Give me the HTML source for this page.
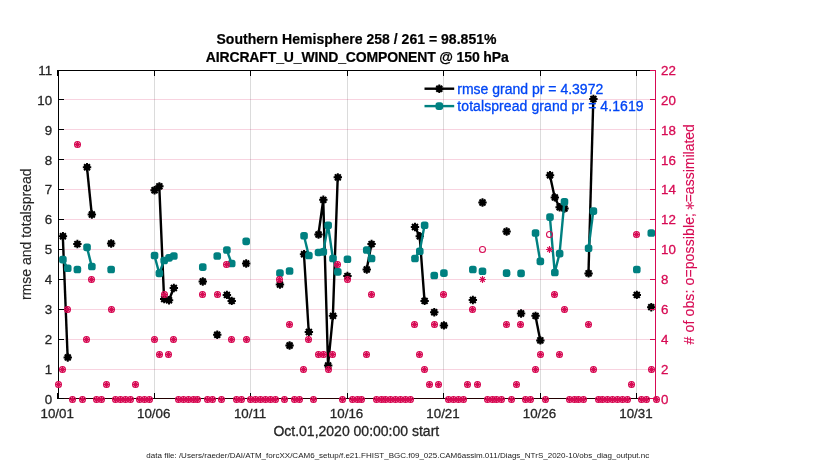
<!DOCTYPE html>
<html lang="en"><head><meta charset="utf-8"><title>Southern Hemisphere AIRCRAFT_U_WIND_COMPONENT @ 150 hPa</title>
<style>html,body{margin:0;padding:0;background:#fff}svg{display:block}text{font-family:"Liberation Sans", Arial, Helvetica, sans-serif}</style></head><body>
<svg width="830" height="470" viewBox="0 0 830 470">
<rect width="830" height="470" fill="#fff"/>
<g stroke="#000" stroke-opacity="0.14" stroke-width="1"><line x1="154.50" y1="70.50" x2="154.50" y2="398.50"/><line x1="250.50" y1="70.50" x2="250.50" y2="398.50"/><line x1="347.50" y1="70.50" x2="347.50" y2="398.50"/><line x1="443.50" y1="70.50" x2="443.50" y2="398.50"/><line x1="540.50" y1="70.50" x2="540.50" y2="398.50"/><line x1="636.50" y1="70.50" x2="636.50" y2="398.50"/></g>
<g stroke="#D70A53" stroke-opacity="0.18" stroke-width="1"><line x1="58.50" y1="369.50" x2="655.50" y2="369.50"/><line x1="58.50" y1="339.50" x2="655.50" y2="339.50"/><line x1="58.50" y1="309.50" x2="655.50" y2="309.50"/><line x1="58.50" y1="279.50" x2="655.50" y2="279.50"/><line x1="58.50" y1="249.50" x2="655.50" y2="249.50"/><line x1="58.50" y1="219.50" x2="655.50" y2="219.50"/><line x1="58.50" y1="189.50" x2="655.50" y2="189.50"/><line x1="58.50" y1="159.50" x2="655.50" y2="159.50"/><line x1="58.50" y1="129.50" x2="655.50" y2="129.50"/><line x1="58.50" y1="99.50" x2="655.50" y2="99.50"/></g>
<path d="M58.50 398.50 V70.50 H655.50" fill="none" stroke="#000" stroke-width="1" stroke-linecap="square"/>
<path d="M58.50 398.50 H655.50" fill="none" stroke="#200" stroke-width="1"/>
<path d="M57.50 399.00 v-6 M57.50 70.00 v6 M154.50 399.00 v-6 M154.50 70.00 v6 M250.50 399.00 v-6 M250.50 70.00 v6 M347.50 399.00 v-6 M347.50 70.00 v6 M443.50 399.00 v-6 M443.50 70.00 v6 M540.50 399.00 v-6 M540.50 70.00 v6 M636.50 399.00 v-6 M636.50 70.00 v6 M58.00 398.50 h6 M58.00 369.50 h6 M58.00 339.50 h6 M58.00 309.50 h6 M58.00 279.50 h6 M58.00 249.50 h6 M58.00 219.50 h6 M58.00 189.50 h6 M58.00 159.50 h6 M58.00 129.50 h6 M58.00 99.50 h6 M58.00 70.50 h6" fill="none" stroke="#000" stroke-width="1"/>
<g id="rmse"><polyline points="62.82,236.29 67.65,357.43" fill="none" stroke="#000" stroke-width="2.4" stroke-linejoin="round"/><polyline points="86.94,167.20 91.76,214.46" fill="none" stroke="#000" stroke-width="2.4" stroke-linejoin="round"/><polyline points="154.45,190.23 159.27,186.35 164.10,299.10 168.92,300.30 173.74,288.04" fill="none" stroke="#000" stroke-width="2.4" stroke-linejoin="round"/><polyline points="226.79,294.92 231.61,300.90" fill="none" stroke="#000" stroke-width="2.4" stroke-linejoin="round"/><polyline points="303.95,254.24 308.77,332.00" fill="none" stroke="#000" stroke-width="2.4" stroke-linejoin="round"/><polyline points="318.42,234.50 323.24,199.81 328.06,365.50 332.89,315.85 337.71,177.37" fill="none" stroke="#000" stroke-width="2.4" stroke-linejoin="round"/><polyline points="366.65,269.49 371.47,244.07" fill="none" stroke="#000" stroke-width="2.4" stroke-linejoin="round"/><polyline points="414.87,227.02 419.69,236.29 424.52,300.90" fill="none" stroke="#000" stroke-width="2.4" stroke-linejoin="round"/><polyline points="535.44,315.85 540.26,340.38" fill="none" stroke="#000" stroke-width="2.4" stroke-linejoin="round"/><polyline points="549.90,175.28 554.73,197.41 559.55,207.28 564.37,208.48" fill="none" stroke="#000" stroke-width="2.4" stroke-linejoin="round"/><polyline points="588.48,273.38 593.31,99.01" fill="none" stroke="#000" stroke-width="2.4" stroke-linejoin="round"/><circle cx="62.92" cy="236.29" r="3.1" fill="#000"/><path d="M58.72 236.29 L67.12 236.29 M59.95 233.32 L65.89 239.26 M62.92 232.09 L62.92 240.49 M65.89 233.32 L59.95 239.26" stroke="#000" stroke-width="2.0" fill="none"/><circle cx="67.75" cy="357.43" r="3.1" fill="#000"/><path d="M63.55 357.43 L71.95 357.43 M64.78 354.46 L70.72 360.40 M67.75 353.23 L67.75 361.63 M70.72 354.46 L64.78 360.40" stroke="#000" stroke-width="2.0" fill="none"/><circle cx="77.39" cy="244.07" r="3.1" fill="#000"/><path d="M73.19 244.07 L81.59 244.07 M74.42 241.10 L80.36 247.04 M77.39 239.87 L77.39 248.27 M80.36 241.10 L74.42 247.04" stroke="#000" stroke-width="2.0" fill="none"/><circle cx="87.04" cy="167.20" r="3.1" fill="#000"/><path d="M82.84 167.20 L91.24 167.20 M84.07 164.23 L90.01 170.17 M87.04 163.00 L87.04 171.40 M90.01 164.23 L84.07 170.17" stroke="#000" stroke-width="2.0" fill="none"/><circle cx="91.86" cy="214.46" r="3.1" fill="#000"/><path d="M87.66 214.46 L96.06 214.46 M88.89 211.49 L94.83 217.43 M91.86 210.26 L91.86 218.66 M94.83 211.49 L88.89 217.43" stroke="#000" stroke-width="2.0" fill="none"/><circle cx="111.15" cy="243.47" r="3.1" fill="#000"/><path d="M106.95 243.47 L115.35 243.47 M108.18 240.50 L114.12 246.44 M111.15 239.27 L111.15 247.67 M114.12 240.50 L108.18 246.44" stroke="#000" stroke-width="2.0" fill="none"/><circle cx="154.55" cy="190.23" r="3.1" fill="#000"/><path d="M150.35 190.23 L158.75 190.23 M151.58 187.26 L157.52 193.20 M154.55 186.03 L154.55 194.43 M157.52 187.26 L151.58 193.20" stroke="#000" stroke-width="2.0" fill="none"/><circle cx="159.37" cy="186.35" r="3.1" fill="#000"/><path d="M155.17 186.35 L163.57 186.35 M156.40 183.38 L162.34 189.32 M159.37 182.15 L159.37 190.55 M162.34 183.38 L156.40 189.32" stroke="#000" stroke-width="2.0" fill="none"/><circle cx="164.20" cy="299.10" r="3.1" fill="#000"/><path d="M160.00 299.10 L168.40 299.10 M161.23 296.13 L167.17 302.07 M164.20 294.90 L164.20 303.30 M167.17 296.13 L161.23 302.07" stroke="#000" stroke-width="2.0" fill="none"/><circle cx="169.02" cy="300.30" r="3.1" fill="#000"/><path d="M164.82 300.30 L173.22 300.30 M166.05 297.33 L171.99 303.27 M169.02 296.10 L169.02 304.50 M171.99 297.33 L166.05 303.27" stroke="#000" stroke-width="2.0" fill="none"/><circle cx="173.84" cy="288.04" r="3.1" fill="#000"/><path d="M169.64 288.04 L178.04 288.04 M170.87 285.07 L176.81 291.01 M173.84 283.84 L173.84 292.24 M176.81 285.07 L170.87 291.01" stroke="#000" stroke-width="2.0" fill="none"/><circle cx="202.78" cy="281.46" r="3.1" fill="#000"/><path d="M198.58 281.46 L206.98 281.46 M199.81 278.49 L205.75 284.43 M202.78 277.26 L202.78 285.66 M205.75 278.49 L199.81 284.43" stroke="#000" stroke-width="2.0" fill="none"/><circle cx="217.25" cy="334.70" r="3.1" fill="#000"/><path d="M213.05 334.70 L221.45 334.70 M214.28 331.73 L220.22 337.67 M217.25 330.50 L217.25 338.90 M220.22 331.73 L214.28 337.67" stroke="#000" stroke-width="2.0" fill="none"/><circle cx="226.89" cy="294.92" r="3.1" fill="#000"/><path d="M222.69 294.92 L231.09 294.92 M223.92 291.95 L229.86 297.89 M226.89 290.72 L226.89 299.12 M229.86 291.95 L223.92 297.89" stroke="#000" stroke-width="2.0" fill="none"/><circle cx="231.71" cy="300.90" r="3.1" fill="#000"/><path d="M227.51 300.90 L235.91 300.90 M228.74 297.93 L234.68 303.87 M231.71 296.70 L231.71 305.10 M234.68 297.93 L228.74 303.87" stroke="#000" stroke-width="2.0" fill="none"/><circle cx="246.18" cy="263.51" r="3.1" fill="#000"/><path d="M241.98 263.51 L250.38 263.51 M243.21 260.54 L249.15 266.48 M246.18 259.31 L246.18 267.71 M249.15 260.54 L243.21 266.48" stroke="#000" stroke-width="2.0" fill="none"/><circle cx="279.94" cy="284.45" r="3.1" fill="#000"/><path d="M275.74 284.45 L284.14 284.45 M276.97 281.48 L282.91 287.42 M279.94 280.25 L279.94 288.65 M282.91 281.48 L276.97 287.42" stroke="#000" stroke-width="2.0" fill="none"/><circle cx="289.58" cy="345.46" r="3.1" fill="#000"/><path d="M285.38 345.46 L293.78 345.46 M286.61 342.49 L292.55 348.43 M289.58 341.26 L289.58 349.66 M292.55 342.49 L286.61 348.43" stroke="#000" stroke-width="2.0" fill="none"/><circle cx="304.05" cy="254.24" r="3.1" fill="#000"/><path d="M299.85 254.24 L308.25 254.24 M301.08 251.27 L307.02 257.21 M304.05 250.04 L304.05 258.44 M307.02 251.27 L301.08 257.21" stroke="#000" stroke-width="2.0" fill="none"/><circle cx="308.87" cy="332.00" r="3.1" fill="#000"/><path d="M304.67 332.00 L313.07 332.00 M305.90 329.03 L311.84 334.97 M308.87 327.80 L308.87 336.20 M311.84 329.03 L305.90 334.97" stroke="#000" stroke-width="2.0" fill="none"/><circle cx="318.52" cy="234.50" r="3.1" fill="#000"/><path d="M314.32 234.50 L322.72 234.50 M315.55 231.53 L321.49 237.47 M318.52 230.30 L318.52 238.70 M321.49 231.53 L315.55 237.47" stroke="#000" stroke-width="2.0" fill="none"/><circle cx="323.34" cy="199.81" r="3.1" fill="#000"/><path d="M319.14 199.81 L327.54 199.81 M320.37 196.84 L326.31 202.78 M323.34 195.61 L323.34 204.01 M326.31 196.84 L320.37 202.78" stroke="#000" stroke-width="2.0" fill="none"/><circle cx="328.16" cy="365.50" r="3.1" fill="#000"/><path d="M323.96 365.50 L332.36 365.50 M325.19 362.53 L331.13 368.47 M328.16 361.30 L328.16 369.70 M331.13 362.53 L325.19 368.47" stroke="#000" stroke-width="2.0" fill="none"/><circle cx="332.99" cy="315.85" r="3.1" fill="#000"/><path d="M328.79 315.85 L337.19 315.85 M330.02 312.88 L335.96 318.82 M332.99 311.65 L332.99 320.05 M335.96 312.88 L330.02 318.82" stroke="#000" stroke-width="2.0" fill="none"/><circle cx="337.81" cy="177.37" r="3.1" fill="#000"/><path d="M333.61 177.37 L342.01 177.37 M334.84 174.40 L340.78 180.34 M337.81 173.17 L337.81 181.57 M340.78 174.40 L334.84 180.34" stroke="#000" stroke-width="2.0" fill="none"/><circle cx="347.45" cy="276.07" r="3.1" fill="#000"/><path d="M343.25 276.07 L351.65 276.07 M344.48 273.10 L350.42 279.04 M347.45 271.87 L347.45 280.27 M350.42 273.10 L344.48 279.04" stroke="#000" stroke-width="2.0" fill="none"/><circle cx="366.75" cy="269.49" r="3.1" fill="#000"/><path d="M362.55 269.49 L370.95 269.49 M363.78 266.52 L369.72 272.46 M366.75 265.29 L366.75 273.69 M369.72 266.52 L363.78 272.46" stroke="#000" stroke-width="2.0" fill="none"/><circle cx="371.57" cy="244.07" r="3.1" fill="#000"/><path d="M367.37 244.07 L375.77 244.07 M368.60 241.10 L374.54 247.04 M371.57 239.87 L371.57 248.27 M374.54 241.10 L368.60 247.04" stroke="#000" stroke-width="2.0" fill="none"/><circle cx="414.97" cy="227.02" r="3.1" fill="#000"/><path d="M410.77 227.02 L419.17 227.02 M412.00 224.05 L417.94 229.99 M414.97 222.82 L414.97 231.22 M417.94 224.05 L412.00 229.99" stroke="#000" stroke-width="2.0" fill="none"/><circle cx="419.79" cy="236.29" r="3.1" fill="#000"/><path d="M415.59 236.29 L423.99 236.29 M416.82 233.32 L422.76 239.26 M419.79 232.09 L419.79 240.49 M422.76 233.32 L416.82 239.26" stroke="#000" stroke-width="2.0" fill="none"/><circle cx="424.62" cy="300.90" r="3.1" fill="#000"/><path d="M420.42 300.90 L428.82 300.90 M421.65 297.93 L427.59 303.87 M424.62 296.70 L424.62 305.10 M427.59 297.93 L421.65 303.87" stroke="#000" stroke-width="2.0" fill="none"/><circle cx="434.26" cy="312.26" r="3.1" fill="#000"/><path d="M430.06 312.26 L438.46 312.26 M431.29 309.29 L437.23 315.23 M434.26 308.06 L434.26 316.46 M437.23 309.29 L431.29 315.23" stroke="#000" stroke-width="2.0" fill="none"/><circle cx="443.91" cy="325.42" r="3.1" fill="#000"/><path d="M439.71 325.42 L448.11 325.42 M440.94 322.45 L446.88 328.39 M443.91 321.22 L443.91 329.62 M446.88 322.45 L440.94 328.39" stroke="#000" stroke-width="2.0" fill="none"/><circle cx="472.84" cy="300.00" r="3.1" fill="#000"/><path d="M468.64 300.00 L477.04 300.00 M469.87 297.03 L475.81 302.97 M472.84 295.80 L472.84 304.20 M475.81 297.03 L469.87 302.97" stroke="#000" stroke-width="2.0" fill="none"/><circle cx="482.49" cy="202.50" r="3.1" fill="#000"/><path d="M478.29 202.50 L486.69 202.50 M479.52 199.53 L485.46 205.47 M482.49 198.30 L482.49 206.70 M485.46 199.53 L479.52 205.47" stroke="#000" stroke-width="2.0" fill="none"/><circle cx="506.60" cy="231.51" r="3.1" fill="#000"/><path d="M502.40 231.51 L510.80 231.51 M503.63 228.54 L509.57 234.48 M506.60 227.31 L506.60 235.71 M509.57 228.54 L503.63 234.48" stroke="#000" stroke-width="2.0" fill="none"/><circle cx="521.07" cy="313.46" r="3.1" fill="#000"/><path d="M516.87 313.46 L525.27 313.46 M518.10 310.49 L524.04 316.43 M521.07 309.26 L521.07 317.66 M524.04 310.49 L518.10 316.43" stroke="#000" stroke-width="2.0" fill="none"/><circle cx="535.54" cy="315.85" r="3.1" fill="#000"/><path d="M531.34 315.85 L539.74 315.85 M532.57 312.88 L538.51 318.82 M535.54 311.65 L535.54 320.05 M538.51 312.88 L532.57 318.82" stroke="#000" stroke-width="2.0" fill="none"/><circle cx="540.36" cy="340.38" r="3.1" fill="#000"/><path d="M536.16 340.38 L544.56 340.38 M537.39 337.41 L543.33 343.35 M540.36 336.18 L540.36 344.58 M543.33 337.41 L537.39 343.35" stroke="#000" stroke-width="2.0" fill="none"/><circle cx="550.00" cy="175.28" r="3.1" fill="#000"/><path d="M545.80 175.28 L554.20 175.28 M547.03 172.31 L552.97 178.25 M550.00 171.08 L550.00 179.48 M552.97 172.31 L547.03 178.25" stroke="#000" stroke-width="2.0" fill="none"/><circle cx="554.83" cy="197.41" r="3.1" fill="#000"/><path d="M550.63 197.41 L559.03 197.41 M551.86 194.44 L557.80 200.38 M554.83 193.21 L554.83 201.61 M557.80 194.44 L551.86 200.38" stroke="#000" stroke-width="2.0" fill="none"/><circle cx="559.65" cy="207.28" r="3.1" fill="#000"/><path d="M555.45 207.28 L563.85 207.28 M556.68 204.31 L562.62 210.25 M559.65 203.08 L559.65 211.48 M562.62 204.31 L556.68 210.25" stroke="#000" stroke-width="2.0" fill="none"/><circle cx="564.47" cy="208.48" r="3.1" fill="#000"/><path d="M560.27 208.48 L568.67 208.48 M561.50 205.51 L567.44 211.45 M564.47 204.28 L564.47 212.68 M567.44 205.51 L561.50 211.45" stroke="#000" stroke-width="2.0" fill="none"/><circle cx="588.58" cy="273.38" r="3.1" fill="#000"/><path d="M584.38 273.38 L592.78 273.38 M585.61 270.41 L591.55 276.35 M588.58 269.18 L588.58 277.58 M591.55 270.41 L585.61 276.35" stroke="#000" stroke-width="2.0" fill="none"/><circle cx="593.41" cy="99.01" r="3.1" fill="#000"/><path d="M589.21 99.01 L597.61 99.01 M590.44 96.04 L596.38 101.98 M593.41 94.81 L593.41 103.21 M596.38 96.04 L590.44 101.98" stroke="#000" stroke-width="2.0" fill="none"/><circle cx="636.81" cy="294.92" r="3.1" fill="#000"/><path d="M632.61 294.92 L641.01 294.92 M633.84 291.95 L639.78 297.89 M636.81 290.72 L636.81 299.12 M639.78 291.95 L633.84 297.89" stroke="#000" stroke-width="2.0" fill="none"/><circle cx="651.28" cy="307.18" r="3.1" fill="#000"/><path d="M647.08 307.18 L655.48 307.18 M648.31 304.21 L654.25 310.15 M651.28 302.98 L651.28 311.38 M654.25 304.21 L648.31 310.15" stroke="#000" stroke-width="2.0" fill="none"/></g>
<g id="spread"><polyline points="62.82,259.62 67.65,268.30" fill="none" stroke="#008080" stroke-width="2.4" stroke-linejoin="round"/><polyline points="86.94,247.36 91.76,266.50" fill="none" stroke="#008080" stroke-width="2.4" stroke-linejoin="round"/><polyline points="154.45,255.44 159.27,273.38 164.10,260.52 168.92,257.83 173.74,256.03" fill="none" stroke="#008080" stroke-width="2.4" stroke-linejoin="round"/><polyline points="226.79,250.05 231.61,263.51" fill="none" stroke="#008080" stroke-width="2.4" stroke-linejoin="round"/><polyline points="303.95,235.70 308.77,255.44" fill="none" stroke="#008080" stroke-width="2.4" stroke-linejoin="round"/><polyline points="318.42,252.45 323.24,251.85 328.06,225.23 332.89,258.43 337.71,271.89" fill="none" stroke="#008080" stroke-width="2.4" stroke-linejoin="round"/><polyline points="366.65,250.05 371.47,258.43" fill="none" stroke="#008080" stroke-width="2.4" stroke-linejoin="round"/><polyline points="414.87,258.43 419.69,251.25 424.52,225.23" fill="none" stroke="#008080" stroke-width="2.4" stroke-linejoin="round"/><polyline points="535.44,233.00 540.26,261.42" fill="none" stroke="#008080" stroke-width="2.4" stroke-linejoin="round"/><polyline points="549.90,217.15 554.73,272.48 559.55,253.64 564.37,201.90" fill="none" stroke="#008080" stroke-width="2.4" stroke-linejoin="round"/><polyline points="588.48,248.26 593.31,211.17" fill="none" stroke="#008080" stroke-width="2.4" stroke-linejoin="round"/><rect x="59.12" y="255.82" width="7.6" height="7.6" rx="2.6" fill="#008080"/><rect x="63.95" y="264.50" width="7.6" height="7.6" rx="2.6" fill="#008080"/><rect x="73.59" y="265.69" width="7.6" height="7.6" rx="2.6" fill="#008080"/><rect x="83.24" y="243.56" width="7.6" height="7.6" rx="2.6" fill="#008080"/><rect x="88.06" y="262.70" width="7.6" height="7.6" rx="2.6" fill="#008080"/><rect x="107.35" y="265.69" width="7.6" height="7.6" rx="2.6" fill="#008080"/><rect x="150.75" y="251.64" width="7.6" height="7.6" rx="2.6" fill="#008080"/><rect x="155.57" y="269.58" width="7.6" height="7.6" rx="2.6" fill="#008080"/><rect x="160.40" y="256.72" width="7.6" height="7.6" rx="2.6" fill="#008080"/><rect x="165.22" y="254.03" width="7.6" height="7.6" rx="2.6" fill="#008080"/><rect x="170.04" y="252.23" width="7.6" height="7.6" rx="2.6" fill="#008080"/><rect x="198.98" y="263.30" width="7.6" height="7.6" rx="2.6" fill="#008080"/><rect x="213.45" y="252.23" width="7.6" height="7.6" rx="2.6" fill="#008080"/><rect x="223.09" y="246.25" width="7.6" height="7.6" rx="2.6" fill="#008080"/><rect x="227.91" y="259.71" width="7.6" height="7.6" rx="2.6" fill="#008080"/><rect x="242.38" y="237.58" width="7.6" height="7.6" rx="2.6" fill="#008080"/><rect x="276.14" y="269.28" width="7.6" height="7.6" rx="2.6" fill="#008080"/><rect x="285.78" y="267.19" width="7.6" height="7.6" rx="2.6" fill="#008080"/><rect x="300.25" y="231.90" width="7.6" height="7.6" rx="2.6" fill="#008080"/><rect x="305.07" y="251.64" width="7.6" height="7.6" rx="2.6" fill="#008080"/><rect x="314.72" y="248.65" width="7.6" height="7.6" rx="2.6" fill="#008080"/><rect x="319.54" y="248.05" width="7.6" height="7.6" rx="2.6" fill="#008080"/><rect x="324.36" y="221.43" width="7.6" height="7.6" rx="2.6" fill="#008080"/><rect x="329.19" y="254.63" width="7.6" height="7.6" rx="2.6" fill="#008080"/><rect x="334.01" y="268.09" width="7.6" height="7.6" rx="2.6" fill="#008080"/><rect x="343.65" y="255.52" width="7.6" height="7.6" rx="2.6" fill="#008080"/><rect x="362.95" y="246.25" width="7.6" height="7.6" rx="2.6" fill="#008080"/><rect x="367.77" y="254.63" width="7.6" height="7.6" rx="2.6" fill="#008080"/><rect x="411.17" y="254.63" width="7.6" height="7.6" rx="2.6" fill="#008080"/><rect x="415.99" y="247.45" width="7.6" height="7.6" rx="2.6" fill="#008080"/><rect x="420.82" y="221.43" width="7.6" height="7.6" rx="2.6" fill="#008080"/><rect x="430.46" y="271.68" width="7.6" height="7.6" rx="2.6" fill="#008080"/><rect x="440.11" y="269.28" width="7.6" height="7.6" rx="2.6" fill="#008080"/><rect x="469.04" y="265.69" width="7.6" height="7.6" rx="2.6" fill="#008080"/><rect x="478.69" y="267.49" width="7.6" height="7.6" rx="2.6" fill="#008080"/><rect x="502.80" y="269.28" width="7.6" height="7.6" rx="2.6" fill="#008080"/><rect x="517.27" y="269.58" width="7.6" height="7.6" rx="2.6" fill="#008080"/><rect x="531.74" y="229.20" width="7.6" height="7.6" rx="2.6" fill="#008080"/><rect x="536.56" y="257.62" width="7.6" height="7.6" rx="2.6" fill="#008080"/><rect x="546.20" y="213.35" width="7.6" height="7.6" rx="2.6" fill="#008080"/><rect x="551.03" y="268.68" width="7.6" height="7.6" rx="2.6" fill="#008080"/><rect x="555.85" y="249.84" width="7.6" height="7.6" rx="2.6" fill="#008080"/><rect x="560.67" y="198.10" width="7.6" height="7.6" rx="2.6" fill="#008080"/><rect x="584.78" y="244.46" width="7.6" height="7.6" rx="2.6" fill="#008080"/><rect x="589.61" y="207.37" width="7.6" height="7.6" rx="2.6" fill="#008080"/><rect x="633.01" y="265.69" width="7.6" height="7.6" rx="2.6" fill="#008080"/><rect x="647.48" y="229.20" width="7.6" height="7.6" rx="2.6" fill="#008080"/></g>
<g id="obs"><circle cx="58.50" cy="384.50" r="3" fill="none" stroke="#D70A53" stroke-width="1.05"/><circle cx="62.50" cy="369.50" r="3" fill="none" stroke="#D70A53" stroke-width="1.05"/><circle cx="67.50" cy="309.50" r="3" fill="none" stroke="#D70A53" stroke-width="1.05"/><circle cx="72.50" cy="399.50" r="3" fill="none" stroke="#D70A53" stroke-width="1.05"/><circle cx="77.50" cy="144.50" r="3" fill="none" stroke="#D70A53" stroke-width="1.05"/><circle cx="82.50" cy="399.50" r="3" fill="none" stroke="#D70A53" stroke-width="1.05"/><circle cx="86.50" cy="339.50" r="3" fill="none" stroke="#D70A53" stroke-width="1.05"/><circle cx="91.50" cy="279.50" r="3" fill="none" stroke="#D70A53" stroke-width="1.05"/><circle cx="96.50" cy="399.50" r="3" fill="none" stroke="#D70A53" stroke-width="1.05"/><circle cx="101.50" cy="399.50" r="3" fill="none" stroke="#D70A53" stroke-width="1.05"/><circle cx="106.50" cy="384.50" r="3" fill="none" stroke="#D70A53" stroke-width="1.05"/><circle cx="111.50" cy="309.50" r="3" fill="none" stroke="#D70A53" stroke-width="1.05"/><circle cx="115.50" cy="399.50" r="3" fill="none" stroke="#D70A53" stroke-width="1.05"/><circle cx="120.50" cy="399.50" r="3" fill="none" stroke="#D70A53" stroke-width="1.05"/><circle cx="125.50" cy="399.50" r="3" fill="none" stroke="#D70A53" stroke-width="1.05"/><circle cx="130.50" cy="399.50" r="3" fill="none" stroke="#D70A53" stroke-width="1.05"/><circle cx="135.50" cy="384.50" r="3" fill="none" stroke="#D70A53" stroke-width="1.05"/><circle cx="139.50" cy="399.50" r="3" fill="none" stroke="#D70A53" stroke-width="1.05"/><circle cx="144.50" cy="399.50" r="3" fill="none" stroke="#D70A53" stroke-width="1.05"/><circle cx="149.50" cy="399.50" r="3" fill="none" stroke="#D70A53" stroke-width="1.05"/><circle cx="154.50" cy="339.50" r="3" fill="none" stroke="#D70A53" stroke-width="1.05"/><circle cx="159.50" cy="354.50" r="3" fill="none" stroke="#D70A53" stroke-width="1.05"/><circle cx="164.50" cy="294.50" r="3" fill="none" stroke="#D70A53" stroke-width="1.05"/><circle cx="168.50" cy="354.50" r="3" fill="none" stroke="#D70A53" stroke-width="1.05"/><circle cx="173.50" cy="339.50" r="3" fill="none" stroke="#D70A53" stroke-width="1.05"/><circle cx="178.50" cy="399.50" r="3" fill="none" stroke="#D70A53" stroke-width="1.05"/><circle cx="183.50" cy="399.50" r="3" fill="none" stroke="#D70A53" stroke-width="1.05"/><circle cx="188.50" cy="399.50" r="3" fill="none" stroke="#D70A53" stroke-width="1.05"/><circle cx="193.50" cy="399.50" r="3" fill="none" stroke="#D70A53" stroke-width="1.05"/><circle cx="197.50" cy="399.50" r="3" fill="none" stroke="#D70A53" stroke-width="1.05"/><circle cx="202.50" cy="294.50" r="3" fill="none" stroke="#D70A53" stroke-width="1.05"/><circle cx="207.50" cy="399.50" r="3" fill="none" stroke="#D70A53" stroke-width="1.05"/><circle cx="212.50" cy="399.50" r="3" fill="none" stroke="#D70A53" stroke-width="1.05"/><circle cx="217.50" cy="294.50" r="3" fill="none" stroke="#D70A53" stroke-width="1.05"/><circle cx="221.50" cy="399.50" r="3" fill="none" stroke="#D70A53" stroke-width="1.05"/><circle cx="226.50" cy="264.50" r="3" fill="none" stroke="#D70A53" stroke-width="1.05"/><circle cx="231.50" cy="339.50" r="3" fill="none" stroke="#D70A53" stroke-width="1.05"/><circle cx="236.50" cy="399.50" r="3" fill="none" stroke="#D70A53" stroke-width="1.05"/><circle cx="241.50" cy="399.50" r="3" fill="none" stroke="#D70A53" stroke-width="1.05"/><circle cx="246.50" cy="339.50" r="3" fill="none" stroke="#D70A53" stroke-width="1.05"/><circle cx="250.50" cy="399.50" r="3" fill="none" stroke="#D70A53" stroke-width="1.05"/><circle cx="255.50" cy="399.50" r="3" fill="none" stroke="#D70A53" stroke-width="1.05"/><circle cx="260.50" cy="399.50" r="3" fill="none" stroke="#D70A53" stroke-width="1.05"/><circle cx="265.50" cy="399.50" r="3" fill="none" stroke="#D70A53" stroke-width="1.05"/><circle cx="270.50" cy="399.50" r="3" fill="none" stroke="#D70A53" stroke-width="1.05"/><circle cx="275.50" cy="399.50" r="3" fill="none" stroke="#D70A53" stroke-width="1.05"/><circle cx="279.50" cy="279.50" r="3" fill="none" stroke="#D70A53" stroke-width="1.05"/><circle cx="284.50" cy="399.50" r="3" fill="none" stroke="#D70A53" stroke-width="1.05"/><circle cx="289.50" cy="324.50" r="3" fill="none" stroke="#D70A53" stroke-width="1.05"/><circle cx="294.50" cy="399.50" r="3" fill="none" stroke="#D70A53" stroke-width="1.05"/><circle cx="299.50" cy="399.50" r="3" fill="none" stroke="#D70A53" stroke-width="1.05"/><circle cx="303.50" cy="369.50" r="3" fill="none" stroke="#D70A53" stroke-width="1.05"/><circle cx="308.50" cy="339.50" r="3" fill="none" stroke="#D70A53" stroke-width="1.05"/><circle cx="313.50" cy="399.50" r="3" fill="none" stroke="#D70A53" stroke-width="1.05"/><circle cx="318.50" cy="354.50" r="3" fill="none" stroke="#D70A53" stroke-width="1.05"/><circle cx="323.50" cy="354.50" r="3" fill="none" stroke="#D70A53" stroke-width="1.05"/><circle cx="328.50" cy="369.50" r="3" fill="none" stroke="#D70A53" stroke-width="1.05"/><circle cx="332.50" cy="354.50" r="3" fill="none" stroke="#D70A53" stroke-width="1.05"/><circle cx="337.50" cy="264.50" r="3" fill="none" stroke="#D70A53" stroke-width="1.05"/><circle cx="342.50" cy="399.50" r="3" fill="none" stroke="#D70A53" stroke-width="1.05"/><circle cx="347.50" cy="279.50" r="3" fill="none" stroke="#D70A53" stroke-width="1.05"/><circle cx="352.50" cy="399.50" r="3" fill="none" stroke="#D70A53" stroke-width="1.05"/><circle cx="357.50" cy="399.50" r="3" fill="none" stroke="#D70A53" stroke-width="1.05"/><circle cx="361.50" cy="399.50" r="3" fill="none" stroke="#D70A53" stroke-width="1.05"/><circle cx="366.50" cy="354.50" r="3" fill="none" stroke="#D70A53" stroke-width="1.05"/><circle cx="371.50" cy="294.50" r="3" fill="none" stroke="#D70A53" stroke-width="1.05"/><circle cx="376.50" cy="399.50" r="3" fill="none" stroke="#D70A53" stroke-width="1.05"/><circle cx="381.50" cy="399.50" r="3" fill="none" stroke="#D70A53" stroke-width="1.05"/><circle cx="385.50" cy="399.50" r="3" fill="none" stroke="#D70A53" stroke-width="1.05"/><circle cx="390.50" cy="399.50" r="3" fill="none" stroke="#D70A53" stroke-width="1.05"/><circle cx="395.50" cy="399.50" r="3" fill="none" stroke="#D70A53" stroke-width="1.05"/><circle cx="400.50" cy="399.50" r="3" fill="none" stroke="#D70A53" stroke-width="1.05"/><circle cx="405.50" cy="399.50" r="3" fill="none" stroke="#D70A53" stroke-width="1.05"/><circle cx="410.50" cy="399.50" r="3" fill="none" stroke="#D70A53" stroke-width="1.05"/><circle cx="414.50" cy="324.50" r="3" fill="none" stroke="#D70A53" stroke-width="1.05"/><circle cx="419.50" cy="354.50" r="3" fill="none" stroke="#D70A53" stroke-width="1.05"/><circle cx="424.50" cy="369.50" r="3" fill="none" stroke="#D70A53" stroke-width="1.05"/><circle cx="429.50" cy="384.50" r="3" fill="none" stroke="#D70A53" stroke-width="1.05"/><circle cx="434.50" cy="324.50" r="3" fill="none" stroke="#D70A53" stroke-width="1.05"/><circle cx="438.50" cy="384.50" r="3" fill="none" stroke="#D70A53" stroke-width="1.05"/><circle cx="443.50" cy="294.50" r="3" fill="none" stroke="#D70A53" stroke-width="1.05"/><circle cx="448.50" cy="399.50" r="3" fill="none" stroke="#D70A53" stroke-width="1.05"/><circle cx="453.50" cy="399.50" r="3" fill="none" stroke="#D70A53" stroke-width="1.05"/><circle cx="458.50" cy="399.50" r="3" fill="none" stroke="#D70A53" stroke-width="1.05"/><circle cx="463.50" cy="399.50" r="3" fill="none" stroke="#D70A53" stroke-width="1.05"/><circle cx="467.50" cy="384.50" r="3" fill="none" stroke="#D70A53" stroke-width="1.05"/><circle cx="472.50" cy="309.50" r="3" fill="none" stroke="#D70A53" stroke-width="1.05"/><circle cx="477.50" cy="384.50" r="3" fill="none" stroke="#D70A53" stroke-width="1.05"/><circle cx="482.50" cy="249.50" r="3" fill="none" stroke="#D70A53" stroke-width="1.05"/><circle cx="487.50" cy="399.50" r="3" fill="none" stroke="#D70A53" stroke-width="1.05"/><circle cx="492.50" cy="399.50" r="3" fill="none" stroke="#D70A53" stroke-width="1.05"/><circle cx="496.50" cy="399.50" r="3" fill="none" stroke="#D70A53" stroke-width="1.05"/><circle cx="501.50" cy="399.50" r="3" fill="none" stroke="#D70A53" stroke-width="1.05"/><circle cx="506.50" cy="324.50" r="3" fill="none" stroke="#D70A53" stroke-width="1.05"/><circle cx="511.50" cy="399.50" r="3" fill="none" stroke="#D70A53" stroke-width="1.05"/><circle cx="516.50" cy="384.50" r="3" fill="none" stroke="#D70A53" stroke-width="1.05"/><circle cx="520.50" cy="324.50" r="3" fill="none" stroke="#D70A53" stroke-width="1.05"/><circle cx="525.50" cy="399.50" r="3" fill="none" stroke="#D70A53" stroke-width="1.05"/><circle cx="530.50" cy="399.50" r="3" fill="none" stroke="#D70A53" stroke-width="1.05"/><circle cx="535.50" cy="369.50" r="3" fill="none" stroke="#D70A53" stroke-width="1.05"/><circle cx="540.50" cy="354.50" r="3" fill="none" stroke="#D70A53" stroke-width="1.05"/><circle cx="545.50" cy="399.50" r="3" fill="none" stroke="#D70A53" stroke-width="1.05"/><circle cx="549.50" cy="234.50" r="3" fill="none" stroke="#D70A53" stroke-width="1.05"/><circle cx="554.50" cy="294.50" r="3" fill="none" stroke="#D70A53" stroke-width="1.05"/><circle cx="559.50" cy="354.50" r="3" fill="none" stroke="#D70A53" stroke-width="1.05"/><circle cx="564.50" cy="309.50" r="3" fill="none" stroke="#D70A53" stroke-width="1.05"/><circle cx="569.50" cy="399.50" r="3" fill="none" stroke="#D70A53" stroke-width="1.05"/><circle cx="574.50" cy="399.50" r="3" fill="none" stroke="#D70A53" stroke-width="1.05"/><circle cx="578.50" cy="399.50" r="3" fill="none" stroke="#D70A53" stroke-width="1.05"/><circle cx="583.50" cy="399.50" r="3" fill="none" stroke="#D70A53" stroke-width="1.05"/><circle cx="588.50" cy="324.50" r="3" fill="none" stroke="#D70A53" stroke-width="1.05"/><circle cx="593.50" cy="369.50" r="3" fill="none" stroke="#D70A53" stroke-width="1.05"/><circle cx="598.50" cy="399.50" r="3" fill="none" stroke="#D70A53" stroke-width="1.05"/><circle cx="602.50" cy="399.50" r="3" fill="none" stroke="#D70A53" stroke-width="1.05"/><circle cx="607.50" cy="399.50" r="3" fill="none" stroke="#D70A53" stroke-width="1.05"/><circle cx="612.50" cy="399.50" r="3" fill="none" stroke="#D70A53" stroke-width="1.05"/><circle cx="617.50" cy="399.50" r="3" fill="none" stroke="#D70A53" stroke-width="1.05"/><circle cx="622.50" cy="399.50" r="3" fill="none" stroke="#D70A53" stroke-width="1.05"/><circle cx="627.50" cy="399.50" r="3" fill="none" stroke="#D70A53" stroke-width="1.05"/><circle cx="631.50" cy="384.50" r="3" fill="none" stroke="#D70A53" stroke-width="1.05"/><circle cx="636.50" cy="234.50" r="3" fill="none" stroke="#D70A53" stroke-width="1.05"/><circle cx="641.50" cy="399.50" r="3" fill="none" stroke="#D70A53" stroke-width="1.05"/><circle cx="646.50" cy="399.50" r="3" fill="none" stroke="#D70A53" stroke-width="1.05"/><circle cx="651.50" cy="369.50" r="3" fill="none" stroke="#D70A53" stroke-width="1.05"/><circle cx="656.50" cy="399.50" r="3" fill="none" stroke="#D70A53" stroke-width="1.05"/><path d="M55.00 384.50 L62.00 384.50 M56.24 382.24 L60.76 386.76 M58.50 381.00 L58.50 388.00 M60.76 382.24 L56.24 386.76" stroke="#D70A53" stroke-width="1.15" fill="none"/><path d="M59.00 369.50 L66.00 369.50 M60.24 367.24 L64.76 371.76 M62.50 366.00 L62.50 373.00 M64.76 367.24 L60.24 371.76" stroke="#D70A53" stroke-width="1.15" fill="none"/><path d="M64.00 309.50 L71.00 309.50 M65.24 307.24 L69.76 311.76 M67.50 306.00 L67.50 313.00 M69.76 307.24 L65.24 311.76" stroke="#D70A53" stroke-width="1.15" fill="none"/><path d="M69.00 399.50 L76.00 399.50 M70.24 397.24 L74.76 401.76 M72.50 396.00 L72.50 403.00 M74.76 397.24 L70.24 401.76" stroke="#D70A53" stroke-width="1.15" fill="none"/><path d="M74.00 144.50 L81.00 144.50 M75.24 142.24 L79.76 146.76 M77.50 141.00 L77.50 148.00 M79.76 142.24 L75.24 146.76" stroke="#D70A53" stroke-width="1.15" fill="none"/><path d="M79.00 399.50 L86.00 399.50 M80.24 397.24 L84.76 401.76 M82.50 396.00 L82.50 403.00 M84.76 397.24 L80.24 401.76" stroke="#D70A53" stroke-width="1.15" fill="none"/><path d="M83.00 339.50 L90.00 339.50 M84.24 337.24 L88.76 341.76 M86.50 336.00 L86.50 343.00 M88.76 337.24 L84.24 341.76" stroke="#D70A53" stroke-width="1.15" fill="none"/><path d="M88.00 279.50 L95.00 279.50 M89.24 277.24 L93.76 281.76 M91.50 276.00 L91.50 283.00 M93.76 277.24 L89.24 281.76" stroke="#D70A53" stroke-width="1.15" fill="none"/><path d="M93.00 399.50 L100.00 399.50 M94.24 397.24 L98.76 401.76 M96.50 396.00 L96.50 403.00 M98.76 397.24 L94.24 401.76" stroke="#D70A53" stroke-width="1.15" fill="none"/><path d="M98.00 399.50 L105.00 399.50 M99.24 397.24 L103.76 401.76 M101.50 396.00 L101.50 403.00 M103.76 397.24 L99.24 401.76" stroke="#D70A53" stroke-width="1.15" fill="none"/><path d="M103.00 384.50 L110.00 384.50 M104.24 382.24 L108.76 386.76 M106.50 381.00 L106.50 388.00 M108.76 382.24 L104.24 386.76" stroke="#D70A53" stroke-width="1.15" fill="none"/><path d="M108.00 309.50 L115.00 309.50 M109.24 307.24 L113.76 311.76 M111.50 306.00 L111.50 313.00 M113.76 307.24 L109.24 311.76" stroke="#D70A53" stroke-width="1.15" fill="none"/><path d="M112.00 399.50 L119.00 399.50 M113.24 397.24 L117.76 401.76 M115.50 396.00 L115.50 403.00 M117.76 397.24 L113.24 401.76" stroke="#D70A53" stroke-width="1.15" fill="none"/><path d="M117.00 399.50 L124.00 399.50 M118.24 397.24 L122.76 401.76 M120.50 396.00 L120.50 403.00 M122.76 397.24 L118.24 401.76" stroke="#D70A53" stroke-width="1.15" fill="none"/><path d="M122.00 399.50 L129.00 399.50 M123.24 397.24 L127.76 401.76 M125.50 396.00 L125.50 403.00 M127.76 397.24 L123.24 401.76" stroke="#D70A53" stroke-width="1.15" fill="none"/><path d="M127.00 399.50 L134.00 399.50 M128.24 397.24 L132.76 401.76 M130.50 396.00 L130.50 403.00 M132.76 397.24 L128.24 401.76" stroke="#D70A53" stroke-width="1.15" fill="none"/><path d="M132.00 384.50 L139.00 384.50 M133.24 382.24 L137.76 386.76 M135.50 381.00 L135.50 388.00 M137.76 382.24 L133.24 386.76" stroke="#D70A53" stroke-width="1.15" fill="none"/><path d="M136.00 399.50 L143.00 399.50 M137.24 397.24 L141.76 401.76 M139.50 396.00 L139.50 403.00 M141.76 397.24 L137.24 401.76" stroke="#D70A53" stroke-width="1.15" fill="none"/><path d="M141.00 399.50 L148.00 399.50 M142.24 397.24 L146.76 401.76 M144.50 396.00 L144.50 403.00 M146.76 397.24 L142.24 401.76" stroke="#D70A53" stroke-width="1.15" fill="none"/><path d="M146.00 399.50 L153.00 399.50 M147.24 397.24 L151.76 401.76 M149.50 396.00 L149.50 403.00 M151.76 397.24 L147.24 401.76" stroke="#D70A53" stroke-width="1.15" fill="none"/><path d="M151.00 339.50 L158.00 339.50 M152.24 337.24 L156.76 341.76 M154.50 336.00 L154.50 343.00 M156.76 337.24 L152.24 341.76" stroke="#D70A53" stroke-width="1.15" fill="none"/><path d="M156.00 354.50 L163.00 354.50 M157.24 352.24 L161.76 356.76 M159.50 351.00 L159.50 358.00 M161.76 352.24 L157.24 356.76" stroke="#D70A53" stroke-width="1.15" fill="none"/><path d="M161.00 294.50 L168.00 294.50 M162.24 292.24 L166.76 296.76 M164.50 291.00 L164.50 298.00 M166.76 292.24 L162.24 296.76" stroke="#D70A53" stroke-width="1.15" fill="none"/><path d="M165.00 354.50 L172.00 354.50 M166.24 352.24 L170.76 356.76 M168.50 351.00 L168.50 358.00 M170.76 352.24 L166.24 356.76" stroke="#D70A53" stroke-width="1.15" fill="none"/><path d="M170.00 339.50 L177.00 339.50 M171.24 337.24 L175.76 341.76 M173.50 336.00 L173.50 343.00 M175.76 337.24 L171.24 341.76" stroke="#D70A53" stroke-width="1.15" fill="none"/><path d="M175.00 399.50 L182.00 399.50 M176.24 397.24 L180.76 401.76 M178.50 396.00 L178.50 403.00 M180.76 397.24 L176.24 401.76" stroke="#D70A53" stroke-width="1.15" fill="none"/><path d="M180.00 399.50 L187.00 399.50 M181.24 397.24 L185.76 401.76 M183.50 396.00 L183.50 403.00 M185.76 397.24 L181.24 401.76" stroke="#D70A53" stroke-width="1.15" fill="none"/><path d="M185.00 399.50 L192.00 399.50 M186.24 397.24 L190.76 401.76 M188.50 396.00 L188.50 403.00 M190.76 397.24 L186.24 401.76" stroke="#D70A53" stroke-width="1.15" fill="none"/><path d="M190.00 399.50 L197.00 399.50 M191.24 397.24 L195.76 401.76 M193.50 396.00 L193.50 403.00 M195.76 397.24 L191.24 401.76" stroke="#D70A53" stroke-width="1.15" fill="none"/><path d="M194.00 399.50 L201.00 399.50 M195.24 397.24 L199.76 401.76 M197.50 396.00 L197.50 403.00 M199.76 397.24 L195.24 401.76" stroke="#D70A53" stroke-width="1.15" fill="none"/><path d="M199.00 294.50 L206.00 294.50 M200.24 292.24 L204.76 296.76 M202.50 291.00 L202.50 298.00 M204.76 292.24 L200.24 296.76" stroke="#D70A53" stroke-width="1.15" fill="none"/><path d="M204.00 399.50 L211.00 399.50 M205.24 397.24 L209.76 401.76 M207.50 396.00 L207.50 403.00 M209.76 397.24 L205.24 401.76" stroke="#D70A53" stroke-width="1.15" fill="none"/><path d="M209.00 399.50 L216.00 399.50 M210.24 397.24 L214.76 401.76 M212.50 396.00 L212.50 403.00 M214.76 397.24 L210.24 401.76" stroke="#D70A53" stroke-width="1.15" fill="none"/><path d="M214.00 294.50 L221.00 294.50 M215.24 292.24 L219.76 296.76 M217.50 291.00 L217.50 298.00 M219.76 292.24 L215.24 296.76" stroke="#D70A53" stroke-width="1.15" fill="none"/><path d="M218.00 399.50 L225.00 399.50 M219.24 397.24 L223.76 401.76 M221.50 396.00 L221.50 403.00 M223.76 397.24 L219.24 401.76" stroke="#D70A53" stroke-width="1.15" fill="none"/><path d="M223.00 264.50 L230.00 264.50 M224.24 262.24 L228.76 266.76 M226.50 261.00 L226.50 268.00 M228.76 262.24 L224.24 266.76" stroke="#D70A53" stroke-width="1.15" fill="none"/><path d="M228.00 339.50 L235.00 339.50 M229.24 337.24 L233.76 341.76 M231.50 336.00 L231.50 343.00 M233.76 337.24 L229.24 341.76" stroke="#D70A53" stroke-width="1.15" fill="none"/><path d="M233.00 399.50 L240.00 399.50 M234.24 397.24 L238.76 401.76 M236.50 396.00 L236.50 403.00 M238.76 397.24 L234.24 401.76" stroke="#D70A53" stroke-width="1.15" fill="none"/><path d="M238.00 399.50 L245.00 399.50 M239.24 397.24 L243.76 401.76 M241.50 396.00 L241.50 403.00 M243.76 397.24 L239.24 401.76" stroke="#D70A53" stroke-width="1.15" fill="none"/><path d="M243.00 339.50 L250.00 339.50 M244.24 337.24 L248.76 341.76 M246.50 336.00 L246.50 343.00 M248.76 337.24 L244.24 341.76" stroke="#D70A53" stroke-width="1.15" fill="none"/><path d="M247.00 399.50 L254.00 399.50 M248.24 397.24 L252.76 401.76 M250.50 396.00 L250.50 403.00 M252.76 397.24 L248.24 401.76" stroke="#D70A53" stroke-width="1.15" fill="none"/><path d="M252.00 399.50 L259.00 399.50 M253.24 397.24 L257.76 401.76 M255.50 396.00 L255.50 403.00 M257.76 397.24 L253.24 401.76" stroke="#D70A53" stroke-width="1.15" fill="none"/><path d="M257.00 399.50 L264.00 399.50 M258.24 397.24 L262.76 401.76 M260.50 396.00 L260.50 403.00 M262.76 397.24 L258.24 401.76" stroke="#D70A53" stroke-width="1.15" fill="none"/><path d="M262.00 399.50 L269.00 399.50 M263.24 397.24 L267.76 401.76 M265.50 396.00 L265.50 403.00 M267.76 397.24 L263.24 401.76" stroke="#D70A53" stroke-width="1.15" fill="none"/><path d="M267.00 399.50 L274.00 399.50 M268.24 397.24 L272.76 401.76 M270.50 396.00 L270.50 403.00 M272.76 397.24 L268.24 401.76" stroke="#D70A53" stroke-width="1.15" fill="none"/><path d="M272.00 399.50 L279.00 399.50 M273.24 397.24 L277.76 401.76 M275.50 396.00 L275.50 403.00 M277.76 397.24 L273.24 401.76" stroke="#D70A53" stroke-width="1.15" fill="none"/><path d="M276.00 279.50 L283.00 279.50 M277.24 277.24 L281.76 281.76 M279.50 276.00 L279.50 283.00 M281.76 277.24 L277.24 281.76" stroke="#D70A53" stroke-width="1.15" fill="none"/><path d="M281.00 399.50 L288.00 399.50 M282.24 397.24 L286.76 401.76 M284.50 396.00 L284.50 403.00 M286.76 397.24 L282.24 401.76" stroke="#D70A53" stroke-width="1.15" fill="none"/><path d="M286.00 324.50 L293.00 324.50 M287.24 322.24 L291.76 326.76 M289.50 321.00 L289.50 328.00 M291.76 322.24 L287.24 326.76" stroke="#D70A53" stroke-width="1.15" fill="none"/><path d="M291.00 399.50 L298.00 399.50 M292.24 397.24 L296.76 401.76 M294.50 396.00 L294.50 403.00 M296.76 397.24 L292.24 401.76" stroke="#D70A53" stroke-width="1.15" fill="none"/><path d="M296.00 399.50 L303.00 399.50 M297.24 397.24 L301.76 401.76 M299.50 396.00 L299.50 403.00 M301.76 397.24 L297.24 401.76" stroke="#D70A53" stroke-width="1.15" fill="none"/><path d="M300.00 369.50 L307.00 369.50 M301.24 367.24 L305.76 371.76 M303.50 366.00 L303.50 373.00 M305.76 367.24 L301.24 371.76" stroke="#D70A53" stroke-width="1.15" fill="none"/><path d="M305.00 339.50 L312.00 339.50 M306.24 337.24 L310.76 341.76 M308.50 336.00 L308.50 343.00 M310.76 337.24 L306.24 341.76" stroke="#D70A53" stroke-width="1.15" fill="none"/><path d="M310.00 399.50 L317.00 399.50 M311.24 397.24 L315.76 401.76 M313.50 396.00 L313.50 403.00 M315.76 397.24 L311.24 401.76" stroke="#D70A53" stroke-width="1.15" fill="none"/><path d="M315.00 354.50 L322.00 354.50 M316.24 352.24 L320.76 356.76 M318.50 351.00 L318.50 358.00 M320.76 352.24 L316.24 356.76" stroke="#D70A53" stroke-width="1.15" fill="none"/><path d="M320.00 354.50 L327.00 354.50 M321.24 352.24 L325.76 356.76 M323.50 351.00 L323.50 358.00 M325.76 352.24 L321.24 356.76" stroke="#D70A53" stroke-width="1.15" fill="none"/><path d="M325.00 369.50 L332.00 369.50 M326.24 367.24 L330.76 371.76 M328.50 366.00 L328.50 373.00 M330.76 367.24 L326.24 371.76" stroke="#D70A53" stroke-width="1.15" fill="none"/><path d="M329.00 354.50 L336.00 354.50 M330.24 352.24 L334.76 356.76 M332.50 351.00 L332.50 358.00 M334.76 352.24 L330.24 356.76" stroke="#D70A53" stroke-width="1.15" fill="none"/><path d="M334.00 264.50 L341.00 264.50 M335.24 262.24 L339.76 266.76 M337.50 261.00 L337.50 268.00 M339.76 262.24 L335.24 266.76" stroke="#D70A53" stroke-width="1.15" fill="none"/><path d="M339.00 399.50 L346.00 399.50 M340.24 397.24 L344.76 401.76 M342.50 396.00 L342.50 403.00 M344.76 397.24 L340.24 401.76" stroke="#D70A53" stroke-width="1.15" fill="none"/><path d="M344.00 279.50 L351.00 279.50 M345.24 277.24 L349.76 281.76 M347.50 276.00 L347.50 283.00 M349.76 277.24 L345.24 281.76" stroke="#D70A53" stroke-width="1.15" fill="none"/><path d="M349.00 399.50 L356.00 399.50 M350.24 397.24 L354.76 401.76 M352.50 396.00 L352.50 403.00 M354.76 397.24 L350.24 401.76" stroke="#D70A53" stroke-width="1.15" fill="none"/><path d="M354.00 399.50 L361.00 399.50 M355.24 397.24 L359.76 401.76 M357.50 396.00 L357.50 403.00 M359.76 397.24 L355.24 401.76" stroke="#D70A53" stroke-width="1.15" fill="none"/><path d="M358.00 399.50 L365.00 399.50 M359.24 397.24 L363.76 401.76 M361.50 396.00 L361.50 403.00 M363.76 397.24 L359.24 401.76" stroke="#D70A53" stroke-width="1.15" fill="none"/><path d="M363.00 354.50 L370.00 354.50 M364.24 352.24 L368.76 356.76 M366.50 351.00 L366.50 358.00 M368.76 352.24 L364.24 356.76" stroke="#D70A53" stroke-width="1.15" fill="none"/><path d="M368.00 294.50 L375.00 294.50 M369.24 292.24 L373.76 296.76 M371.50 291.00 L371.50 298.00 M373.76 292.24 L369.24 296.76" stroke="#D70A53" stroke-width="1.15" fill="none"/><path d="M373.00 399.50 L380.00 399.50 M374.24 397.24 L378.76 401.76 M376.50 396.00 L376.50 403.00 M378.76 397.24 L374.24 401.76" stroke="#D70A53" stroke-width="1.15" fill="none"/><path d="M378.00 399.50 L385.00 399.50 M379.24 397.24 L383.76 401.76 M381.50 396.00 L381.50 403.00 M383.76 397.24 L379.24 401.76" stroke="#D70A53" stroke-width="1.15" fill="none"/><path d="M382.00 399.50 L389.00 399.50 M383.24 397.24 L387.76 401.76 M385.50 396.00 L385.50 403.00 M387.76 397.24 L383.24 401.76" stroke="#D70A53" stroke-width="1.15" fill="none"/><path d="M387.00 399.50 L394.00 399.50 M388.24 397.24 L392.76 401.76 M390.50 396.00 L390.50 403.00 M392.76 397.24 L388.24 401.76" stroke="#D70A53" stroke-width="1.15" fill="none"/><path d="M392.00 399.50 L399.00 399.50 M393.24 397.24 L397.76 401.76 M395.50 396.00 L395.50 403.00 M397.76 397.24 L393.24 401.76" stroke="#D70A53" stroke-width="1.15" fill="none"/><path d="M397.00 399.50 L404.00 399.50 M398.24 397.24 L402.76 401.76 M400.50 396.00 L400.50 403.00 M402.76 397.24 L398.24 401.76" stroke="#D70A53" stroke-width="1.15" fill="none"/><path d="M402.00 399.50 L409.00 399.50 M403.24 397.24 L407.76 401.76 M405.50 396.00 L405.50 403.00 M407.76 397.24 L403.24 401.76" stroke="#D70A53" stroke-width="1.15" fill="none"/><path d="M407.00 399.50 L414.00 399.50 M408.24 397.24 L412.76 401.76 M410.50 396.00 L410.50 403.00 M412.76 397.24 L408.24 401.76" stroke="#D70A53" stroke-width="1.15" fill="none"/><path d="M411.00 324.50 L418.00 324.50 M412.24 322.24 L416.76 326.76 M414.50 321.00 L414.50 328.00 M416.76 322.24 L412.24 326.76" stroke="#D70A53" stroke-width="1.15" fill="none"/><path d="M416.00 354.50 L423.00 354.50 M417.24 352.24 L421.76 356.76 M419.50 351.00 L419.50 358.00 M421.76 352.24 L417.24 356.76" stroke="#D70A53" stroke-width="1.15" fill="none"/><path d="M421.00 369.50 L428.00 369.50 M422.24 367.24 L426.76 371.76 M424.50 366.00 L424.50 373.00 M426.76 367.24 L422.24 371.76" stroke="#D70A53" stroke-width="1.15" fill="none"/><path d="M426.00 384.50 L433.00 384.50 M427.24 382.24 L431.76 386.76 M429.50 381.00 L429.50 388.00 M431.76 382.24 L427.24 386.76" stroke="#D70A53" stroke-width="1.15" fill="none"/><path d="M431.00 324.50 L438.00 324.50 M432.24 322.24 L436.76 326.76 M434.50 321.00 L434.50 328.00 M436.76 322.24 L432.24 326.76" stroke="#D70A53" stroke-width="1.15" fill="none"/><path d="M435.00 384.50 L442.00 384.50 M436.24 382.24 L440.76 386.76 M438.50 381.00 L438.50 388.00 M440.76 382.24 L436.24 386.76" stroke="#D70A53" stroke-width="1.15" fill="none"/><path d="M440.00 294.50 L447.00 294.50 M441.24 292.24 L445.76 296.76 M443.50 291.00 L443.50 298.00 M445.76 292.24 L441.24 296.76" stroke="#D70A53" stroke-width="1.15" fill="none"/><path d="M445.00 399.50 L452.00 399.50 M446.24 397.24 L450.76 401.76 M448.50 396.00 L448.50 403.00 M450.76 397.24 L446.24 401.76" stroke="#D70A53" stroke-width="1.15" fill="none"/><path d="M450.00 399.50 L457.00 399.50 M451.24 397.24 L455.76 401.76 M453.50 396.00 L453.50 403.00 M455.76 397.24 L451.24 401.76" stroke="#D70A53" stroke-width="1.15" fill="none"/><path d="M455.00 399.50 L462.00 399.50 M456.24 397.24 L460.76 401.76 M458.50 396.00 L458.50 403.00 M460.76 397.24 L456.24 401.76" stroke="#D70A53" stroke-width="1.15" fill="none"/><path d="M460.00 399.50 L467.00 399.50 M461.24 397.24 L465.76 401.76 M463.50 396.00 L463.50 403.00 M465.76 397.24 L461.24 401.76" stroke="#D70A53" stroke-width="1.15" fill="none"/><path d="M464.00 384.50 L471.00 384.50 M465.24 382.24 L469.76 386.76 M467.50 381.00 L467.50 388.00 M469.76 382.24 L465.24 386.76" stroke="#D70A53" stroke-width="1.15" fill="none"/><path d="M469.00 309.50 L476.00 309.50 M470.24 307.24 L474.76 311.76 M472.50 306.00 L472.50 313.00 M474.76 307.24 L470.24 311.76" stroke="#D70A53" stroke-width="1.15" fill="none"/><path d="M474.00 384.50 L481.00 384.50 M475.24 382.24 L479.76 386.76 M477.50 381.00 L477.50 388.00 M479.76 382.24 L475.24 386.76" stroke="#D70A53" stroke-width="1.15" fill="none"/><path d="M479.00 279.50 L486.00 279.50 M480.24 277.24 L484.76 281.76 M482.50 276.00 L482.50 283.00 M484.76 277.24 L480.24 281.76" stroke="#D70A53" stroke-width="1.15" fill="none"/><path d="M484.00 399.50 L491.00 399.50 M485.24 397.24 L489.76 401.76 M487.50 396.00 L487.50 403.00 M489.76 397.24 L485.24 401.76" stroke="#D70A53" stroke-width="1.15" fill="none"/><path d="M489.00 399.50 L496.00 399.50 M490.24 397.24 L494.76 401.76 M492.50 396.00 L492.50 403.00 M494.76 397.24 L490.24 401.76" stroke="#D70A53" stroke-width="1.15" fill="none"/><path d="M493.00 399.50 L500.00 399.50 M494.24 397.24 L498.76 401.76 M496.50 396.00 L496.50 403.00 M498.76 397.24 L494.24 401.76" stroke="#D70A53" stroke-width="1.15" fill="none"/><path d="M498.00 399.50 L505.00 399.50 M499.24 397.24 L503.76 401.76 M501.50 396.00 L501.50 403.00 M503.76 397.24 L499.24 401.76" stroke="#D70A53" stroke-width="1.15" fill="none"/><path d="M503.00 324.50 L510.00 324.50 M504.24 322.24 L508.76 326.76 M506.50 321.00 L506.50 328.00 M508.76 322.24 L504.24 326.76" stroke="#D70A53" stroke-width="1.15" fill="none"/><path d="M508.00 399.50 L515.00 399.50 M509.24 397.24 L513.76 401.76 M511.50 396.00 L511.50 403.00 M513.76 397.24 L509.24 401.76" stroke="#D70A53" stroke-width="1.15" fill="none"/><path d="M513.00 384.50 L520.00 384.50 M514.24 382.24 L518.76 386.76 M516.50 381.00 L516.50 388.00 M518.76 382.24 L514.24 386.76" stroke="#D70A53" stroke-width="1.15" fill="none"/><path d="M517.00 324.50 L524.00 324.50 M518.24 322.24 L522.76 326.76 M520.50 321.00 L520.50 328.00 M522.76 322.24 L518.24 326.76" stroke="#D70A53" stroke-width="1.15" fill="none"/><path d="M522.00 399.50 L529.00 399.50 M523.24 397.24 L527.76 401.76 M525.50 396.00 L525.50 403.00 M527.76 397.24 L523.24 401.76" stroke="#D70A53" stroke-width="1.15" fill="none"/><path d="M527.00 399.50 L534.00 399.50 M528.24 397.24 L532.76 401.76 M530.50 396.00 L530.50 403.00 M532.76 397.24 L528.24 401.76" stroke="#D70A53" stroke-width="1.15" fill="none"/><path d="M532.00 369.50 L539.00 369.50 M533.24 367.24 L537.76 371.76 M535.50 366.00 L535.50 373.00 M537.76 367.24 L533.24 371.76" stroke="#D70A53" stroke-width="1.15" fill="none"/><path d="M537.00 354.50 L544.00 354.50 M538.24 352.24 L542.76 356.76 M540.50 351.00 L540.50 358.00 M542.76 352.24 L538.24 356.76" stroke="#D70A53" stroke-width="1.15" fill="none"/><path d="M542.00 399.50 L549.00 399.50 M543.24 397.24 L547.76 401.76 M545.50 396.00 L545.50 403.00 M547.76 397.24 L543.24 401.76" stroke="#D70A53" stroke-width="1.15" fill="none"/><path d="M546.00 249.50 L553.00 249.50 M547.24 247.24 L551.76 251.76 M549.50 246.00 L549.50 253.00 M551.76 247.24 L547.24 251.76" stroke="#D70A53" stroke-width="1.15" fill="none"/><path d="M551.00 294.50 L558.00 294.50 M552.24 292.24 L556.76 296.76 M554.50 291.00 L554.50 298.00 M556.76 292.24 L552.24 296.76" stroke="#D70A53" stroke-width="1.15" fill="none"/><path d="M556.00 354.50 L563.00 354.50 M557.24 352.24 L561.76 356.76 M559.50 351.00 L559.50 358.00 M561.76 352.24 L557.24 356.76" stroke="#D70A53" stroke-width="1.15" fill="none"/><path d="M561.00 309.50 L568.00 309.50 M562.24 307.24 L566.76 311.76 M564.50 306.00 L564.50 313.00 M566.76 307.24 L562.24 311.76" stroke="#D70A53" stroke-width="1.15" fill="none"/><path d="M566.00 399.50 L573.00 399.50 M567.24 397.24 L571.76 401.76 M569.50 396.00 L569.50 403.00 M571.76 397.24 L567.24 401.76" stroke="#D70A53" stroke-width="1.15" fill="none"/><path d="M571.00 399.50 L578.00 399.50 M572.24 397.24 L576.76 401.76 M574.50 396.00 L574.50 403.00 M576.76 397.24 L572.24 401.76" stroke="#D70A53" stroke-width="1.15" fill="none"/><path d="M575.00 399.50 L582.00 399.50 M576.24 397.24 L580.76 401.76 M578.50 396.00 L578.50 403.00 M580.76 397.24 L576.24 401.76" stroke="#D70A53" stroke-width="1.15" fill="none"/><path d="M580.00 399.50 L587.00 399.50 M581.24 397.24 L585.76 401.76 M583.50 396.00 L583.50 403.00 M585.76 397.24 L581.24 401.76" stroke="#D70A53" stroke-width="1.15" fill="none"/><path d="M585.00 324.50 L592.00 324.50 M586.24 322.24 L590.76 326.76 M588.50 321.00 L588.50 328.00 M590.76 322.24 L586.24 326.76" stroke="#D70A53" stroke-width="1.15" fill="none"/><path d="M590.00 369.50 L597.00 369.50 M591.24 367.24 L595.76 371.76 M593.50 366.00 L593.50 373.00 M595.76 367.24 L591.24 371.76" stroke="#D70A53" stroke-width="1.15" fill="none"/><path d="M595.00 399.50 L602.00 399.50 M596.24 397.24 L600.76 401.76 M598.50 396.00 L598.50 403.00 M600.76 397.24 L596.24 401.76" stroke="#D70A53" stroke-width="1.15" fill="none"/><path d="M599.00 399.50 L606.00 399.50 M600.24 397.24 L604.76 401.76 M602.50 396.00 L602.50 403.00 M604.76 397.24 L600.24 401.76" stroke="#D70A53" stroke-width="1.15" fill="none"/><path d="M604.00 399.50 L611.00 399.50 M605.24 397.24 L609.76 401.76 M607.50 396.00 L607.50 403.00 M609.76 397.24 L605.24 401.76" stroke="#D70A53" stroke-width="1.15" fill="none"/><path d="M609.00 399.50 L616.00 399.50 M610.24 397.24 L614.76 401.76 M612.50 396.00 L612.50 403.00 M614.76 397.24 L610.24 401.76" stroke="#D70A53" stroke-width="1.15" fill="none"/><path d="M614.00 399.50 L621.00 399.50 M615.24 397.24 L619.76 401.76 M617.50 396.00 L617.50 403.00 M619.76 397.24 L615.24 401.76" stroke="#D70A53" stroke-width="1.15" fill="none"/><path d="M619.00 399.50 L626.00 399.50 M620.24 397.24 L624.76 401.76 M622.50 396.00 L622.50 403.00 M624.76 397.24 L620.24 401.76" stroke="#D70A53" stroke-width="1.15" fill="none"/><path d="M624.00 399.50 L631.00 399.50 M625.24 397.24 L629.76 401.76 M627.50 396.00 L627.50 403.00 M629.76 397.24 L625.24 401.76" stroke="#D70A53" stroke-width="1.15" fill="none"/><path d="M628.00 384.50 L635.00 384.50 M629.24 382.24 L633.76 386.76 M631.50 381.00 L631.50 388.00 M633.76 382.24 L629.24 386.76" stroke="#D70A53" stroke-width="1.15" fill="none"/><path d="M633.00 234.50 L640.00 234.50 M634.24 232.24 L638.76 236.76 M636.50 231.00 L636.50 238.00 M638.76 232.24 L634.24 236.76" stroke="#D70A53" stroke-width="1.15" fill="none"/><path d="M638.00 399.50 L645.00 399.50 M639.24 397.24 L643.76 401.76 M641.50 396.00 L641.50 403.00 M643.76 397.24 L639.24 401.76" stroke="#D70A53" stroke-width="1.15" fill="none"/><path d="M643.00 399.50 L650.00 399.50 M644.24 397.24 L648.76 401.76 M646.50 396.00 L646.50 403.00 M648.76 397.24 L644.24 401.76" stroke="#D70A53" stroke-width="1.15" fill="none"/><path d="M648.00 369.50 L655.00 369.50 M649.24 367.24 L653.76 371.76 M651.50 366.00 L651.50 373.00 M653.76 367.24 L649.24 371.76" stroke="#D70A53" stroke-width="1.15" fill="none"/><path d="M653.00 399.50 L660.00 399.50 M654.24 397.24 L658.76 401.76 M656.50 396.00 L656.50 403.00 M658.76 397.24 L654.24 401.76" stroke="#D70A53" stroke-width="1.15" fill="none"/></g>
<path d="M655.50 399.00 V70.00 M656.00 398.50 h-6 M656.00 369.50 h-6 M656.00 339.50 h-6 M656.00 309.50 h-6 M656.00 279.50 h-6 M656.00 249.50 h-6 M656.00 219.50 h-6 M656.00 189.50 h-6 M656.00 159.50 h-6 M656.00 129.50 h-6 M656.00 99.50 h-6 M656.00 70.50 h-6" fill="none" stroke="#D70A53" stroke-width="1"/>
<g font-size="13.33" fill="#262626" stroke="#262626" stroke-width="0.3"><text x="52.2" y="403.80" text-anchor="end">0</text><text x="52.2" y="373.89" text-anchor="end">1</text><text x="52.2" y="343.98" text-anchor="end">2</text><text x="52.2" y="314.07" text-anchor="end">3</text><text x="52.2" y="284.16" text-anchor="end">4</text><text x="52.2" y="254.25" text-anchor="end">5</text><text x="52.2" y="224.35" text-anchor="end">6</text><text x="52.2" y="194.44" text-anchor="end">7</text><text x="52.2" y="164.53" text-anchor="end">8</text><text x="52.2" y="134.62" text-anchor="end">9</text><text x="52.2" y="104.71" text-anchor="end">10</text><text x="52.2" y="74.80" text-anchor="end">11</text><text x="57.20" y="417.8" text-anchor="middle">10/01</text><text x="153.65" y="417.8" text-anchor="middle">10/06</text><text x="250.10" y="417.8" text-anchor="middle">10/11</text><text x="346.55" y="417.8" text-anchor="middle">10/16</text><text x="443.01" y="417.8" text-anchor="middle">10/21</text><text x="539.46" y="417.8" text-anchor="middle">10/26</text><text x="635.91" y="417.8" text-anchor="middle">10/31</text></g>
<g font-size="13.33" fill="#D70A53" stroke="#D70A53" stroke-width="0.3"><text x="661" y="403.80">0</text><text x="661" y="373.89">2</text><text x="661" y="343.98">4</text><text x="661" y="314.07">6</text><text x="661" y="284.16">8</text><text x="661" y="254.25">10</text><text x="661" y="224.35">12</text><text x="661" y="194.44">14</text><text x="661" y="164.53">16</text><text x="661" y="134.62">18</text><text x="661" y="104.71">20</text><text x="661" y="74.80">22</text></g>
<text x="356.5" y="43.8" text-anchor="middle" font-size="14" font-weight="bold" fill="#000" stroke="#000" stroke-width="0.2" textLength="280" lengthAdjust="spacing">Southern Hemisphere 258 / 261 = 98.851%</text>
<text x="357.2" y="62.2" text-anchor="middle" font-size="14" font-weight="bold" fill="#000" stroke="#000" stroke-width="0.2" textLength="303" lengthAdjust="spacing">AIRCRAFT_U_WIND_COMPONENT @ 150 hPa</text>
<text x="356.3" y="435.7" text-anchor="middle" font-size="14" fill="#262626" stroke="#262626" stroke-width="0.3">Oct.01,2020 00:00:00 start</text>
<text transform="translate(30.8,234.3) rotate(-90)" text-anchor="middle" font-size="14" fill="#262626" stroke="#262626" stroke-width="0.15">rmse and totalspread</text>
<g font-size="14" fill="#D70A53" stroke="#D70A53" stroke-width="0.12">
<text transform="translate(694.2,344.4) rotate(-90)" textLength="131.4" lengthAdjust="spacing"># of obs: o=possible;</text>
<text transform="translate(693.9,211.2) rotate(-90)" font-size="12.5" fill-opacity="0.8">∗</text>
<text transform="translate(694.2,124.1) rotate(-90)" text-anchor="end">=assimilated</text>
</g>
<text x="146.3" y="457.8" font-size="8" fill="#1a1a1a" stroke="none" textLength="503" lengthAdjust="spacing">data file: /Users/raeder/DAI/ATM_forcXX/CAM6_setup/f.e21.FHIST_BGC.f09_025.CAM6assim.011/Diags_NTrS_2020-10/obs_diag_output.nc</text>
<line x1="424.5" y1="88.7" x2="454.2" y2="88.7" stroke="#000" stroke-width="2.4"/><circle cx="439.30" cy="88.70" r="3.1" fill="#000"/><path d="M435.10 88.70 L443.50 88.70 M436.33 85.73 L442.27 91.67 M439.30 84.50 L439.30 92.90 M442.27 85.73 L436.33 91.67" stroke="#000" stroke-width="2.0" fill="none"/>
<line x1="424.5" y1="106.1" x2="454.2" y2="106.1" stroke="#008080" stroke-width="2.4"/><rect x="435.50" y="102.30" width="7.6" height="7.6" rx="2.6" fill="#008080"/>
<text x="457.3" y="93.7" font-size="14" fill="#0046F5" stroke="#0046F5" stroke-width="0.3">rmse grand pr = 4.3972</text>
<text x="457.3" y="111.1" font-size="14" fill="#0046F5" stroke="#0046F5" stroke-width="0.3" textLength="186.3" lengthAdjust="spacing">totalspread grand pr = 4.1619</text>
</svg></body></html>
